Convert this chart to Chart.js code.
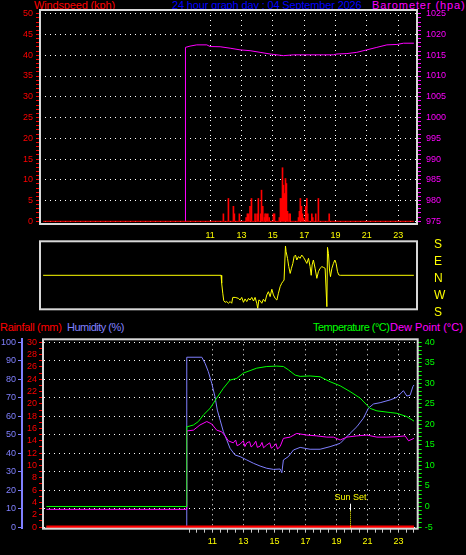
<!DOCTYPE html>
<html>
<head>
<meta charset="utf-8">
<script src="https://cdn.jsdelivr.net/npm/chart.js@4.4.1/dist/chart.umd.min.js"></script>
<style>
  html, body { margin: 0; padding: 0; background: #000; }
  body { width: 466px; height: 555px; position: relative; overflow: hidden;
         font-family: 'Liberation Sans', Arial, sans-serif; }
  .t { position: absolute; font-size: 11px; line-height: 12px; white-space: nowrap; }
  canvas { position: absolute; left: 0; }
</style>
</head>
<body>
<div class="t" style="left:34px;top:-1px;color:#f00;letter-spacing:-0.15px">Windspeed (kph)</div>
<div class="t" style="left:172px;top:-1px;color:#00f;letter-spacing:-0.15px">24 hour graph day : 04 September 2026</div>
<div class="t" style="left:372px;top:-1px;color:#f0f;letter-spacing:0.9px">Barometer (hpa)</div>
<div class="t" style="left:0;top:321px;color:#f00;letter-spacing:-0.3px">Rainfall (mm)</div>
<div class="t" style="left:67px;top:321px;color:#8080ff;letter-spacing:-0.5px">Humidity (%)</div>
<div class="t" style="left:313px;top:321px;color:#0f0;letter-spacing:-0.5px">Temperature (°C)</div>
<div class="t" style="left:390px;top:321px;color:#f0f">Dew Point (°C)</div>
<canvas id="top" width="466" height="242" style="top:0"></canvas>
<canvas id="mid" width="466" height="86" style="top:236px"></canvas>
<canvas id="bot" width="466" height="237" style="top:318px"></canvas>
<script>
// tick labels
const hourLabels = [11, 13, 15, 17, 19, 21, 23];
const windTicks = [0, 5, 10, 15, 20, 25, 30, 35, 40, 45, 50];
const baroTicks = [975, 980, 985, 990, 995, 1000, 1005, 1010, 1015, 1020, 1025];
const dirTicks = [180, 90, 0, -90, -180];
const dirLabels = ['S', 'E', 'N', 'W', 'S'];
const rainTicks = [0, 2, 4, 6, 8, 10, 12, 14, 16, 18, 20, 22, 24, 26, 28, 30];
const humTicks = [0, 10, 20, 30, 40, 50, 60, 70, 80, 90, 100];
const tempTicks = [-5, 0, 5, 10, 15, 20, 25, 30, 35, 40];

// wind speed (kph), hours of day
const windTimes = [11.85, 12.17, 12.49, 12.55, 12.87, 13.30, 13.38, 13.45, 13.55, 13.64, 13.87, 14.00,
  14.08, 14.23, 14.28, 14.36, 14.47, 14.51, 14.58, 14.68, 14.77, 15.04, 15.11, 15.42, 15.49, 15.55,
  15.62, 15.68, 15.74, 15.81, 15.87, 15.94, 16.04, 16.11, 16.64, 16.70, 16.76, 16.83, 16.89, 16.96,
  17.10, 17.17, 17.23, 17.49, 17.55, 17.74, 17.91, 18.60];
const windSpeed = [1.8, 5.5, 3.6, 1.8, 1.8, 0.9, 1.8, 1.8, 3.6, 5.5, 1.8, 1.8,
  5.5, 1.8, 7.5, 3.6, 0.9, 1.8, 1.8, 1.8, 0.9, 1.8, 1.8, 0.9, 5.5, 5.5,
  12.9, 8.7, 6.7, 10.3, 9.1, 2.4, 1.8, 1.8, 0.9, 2.4, 5.5, 3.6, 1.8, 0.7,
  3.6, 5.5, 1.8, 1.8, 0.9, 1.8, 5.5, 1.8];
const calmTimes = [0.35, 24.0];
const calmSpeed = [0, 0];

// barometer (hPa)
const baroTimes = [9.43, 9.43, 9.72, 10.15, 10.79, 11.0, 11.64, 12.28, 12.91, 13.55, 14.19, 14.83,
  15.68, 16.32, 17.38, 18.23, 18.87, 19.09, 19.73, 20.36, 21.0, 21.64, 22.28, 22.92, 23.34, 24.0];
const baroValues = [975, 1016.9, 1017.2, 1017.5, 1017.5, 1017.1, 1017.05, 1016.7, 1016.3, 1016.1, 1015.7, 1015.3,
  1014.9, 1015.1, 1015.1, 1015.1, 1015.1, 1015.3, 1015.4, 1015.7, 1016.3, 1016.9, 1017.5, 1017.6, 1017.9, 1017.9];

// wind direction (degrees, N = 0, E = 90, S = +/-180, W = -90)
const dirTimes = [0.35, 11.70, 11.74, 11.81, 11.87, 11.96, 12.06, 12.17, 12.28, 12.38, 12.45, 12.60,
  12.81, 12.91, 13.02, 13.13, 13.23, 13.34, 13.45, 13.55, 13.66, 13.77, 13.87, 13.98, 14.04, 14.11,
  14.19, 14.30, 14.40, 14.51, 14.62, 14.72, 14.83, 14.94, 15.04, 15.15, 15.26, 15.36, 15.47, 15.57,
  15.64, 15.72, 15.81, 15.85, 15.94, 16.02, 16.11, 16.19, 16.28, 16.36, 16.45, 16.53, 16.64, 16.74,
  16.85, 16.96, 17.06, 17.17, 17.28, 17.38, 17.45, 17.51, 17.59, 17.70, 17.81, 17.91, 18.02, 18.13,
  18.23, 18.34, 18.45, 18.49, 18.55, 18.62, 18.68, 18.77, 18.87, 18.96, 19.04, 19.13, 19.21, 19.30, 24.0];
const dirValues = [0, 0, -42, -95, -134, -143, -139, -148, -139, -148, -117, -117,
  -122, -131, -117, -143, -125, -139, -122, -131, -117, -136, -117, -148, -175, -131,
  -134, -148, -127, -139, -104, -87, -113, -74, -104, -122, -131, -95, -60, -42,
  -34, -25, 155, 125, 90, 46, 10, 37, 63, 99, 107, 81, 99, 90,
  107, 95, 81, 63, 90, 46, 0, 55, 81, 37, -16, 19, 37, 46,
  42, 37, -166, 148, 116, 28, -7, 37, 63, 81, 63, 19, 2, 0, 0];

// rainfall (mm)
const rainTimes = [0.3, 24.0];
const rainValues = [0, 0];

// temperature (°C)
const tempTimes = [0.3, 9.35, 9.35, 9.78, 10.1, 10.42, 10.85, 11.28, 11.71, 12.14, 12.57, 13.0, 13.43,
  13.86, 14.51, 15.15, 15.58, 15.9, 16.34, 16.66, 17.3, 17.95, 18.59, 19.24, 19.88, 20.53, 21.17,
  21.61, 22.46, 22.9, 23.54, 24.0];
const tempValues = [0, 0, 19.4, 19.85, 20.7, 22.3, 23.9, 26.4, 28.8, 30.8, 31.2, 32.5, 33.1,
  33.7, 34.1, 34.2, 34.1, 33.3, 32.0, 31.7, 31.8, 31.6, 30.4, 29.4, 28.0, 26.4, 23.9,
  23.3, 22.9, 22.7, 21.9, 20.8];

// humidity (%)
const humTimes = [0.3, 9.35, 9.35, 10.32, 10.53, 10.74, 10.96, 11.17, 11.32, 11.5, 11.71, 11.93, 12.14,
  12.46, 12.79, 13.22, 13.65, 14.08, 14.51, 14.94, 15.37, 15.48, 15.58, 15.9, 16.23, 16.66, 17.3,
  17.95, 18.59, 19.24, 19.56, 19.88, 20.32, 20.74, 21.06, 21.39, 21.82, 22.46, 22.9, 23.32, 23.54,
  23.75, 23.93, 24.0];
const humValues = [0, 0, 91.9, 91.9, 88.6, 84.1, 77.8, 70.5, 63.3, 57.9, 51.6, 47.1, 42.6,
  39.0, 38.1, 36.3, 34.5, 33.0, 31.8, 31.2, 31.4, 29.4, 36.3, 38.1, 41.7, 43.1, 42.1,
  42.1, 43.5, 45.3, 48.0, 50.7, 54.3, 58.9, 64.3, 66.6, 67.3, 68.8, 70.2, 73.8, 70.9,
  71.3, 76.0, 76.9];

// dew point (°C)
const dewTimes = [0.3, 9.35, 9.35, 9.78, 10.2, 10.64, 10.96, 11.28, 11.6, 11.82, 12.03, 12.35, 12.5,
  12.6, 12.79, 13.0, 13.1, 13.22, 13.4, 13.5, 13.65, 13.8, 13.9, 14.08, 14.2, 14.3, 14.51, 14.7,
  14.8, 14.94, 15.1, 15.2, 15.37, 15.58, 16.01, 16.44, 17.09, 17.73, 18.38, 18.81, 19.24, 19.67,
  20.32, 20.96, 21.61, 22.25, 22.9, 23.43, 23.65, 24.0];
const dewValues = [-0.7, -0.7, 18.4, 18.6, 19.85, 20.7, 20.1, 18.6, 18.2, 17.2, 16.0, 15.5, 16.2,
  14.8, 15.2, 16.0, 14.6, 15.5, 15.8, 14.5, 15.0, 15.9, 14.4, 14.7, 15.6, 14.3, 15.0, 15.5,
  14.2, 14.6, 15.3, 14.0, 14.6, 16.6, 16.9, 17.8, 17.4, 17.2, 16.9, 16.9, 16.2, 16.9,
  17.2, 17.4, 16.9, 16.9, 17.0, 17.2, 16.0, 16.6];

const sunsetHour = 19.87;

const FONT = "'Liberation Sans', Arial, sans-serif";
Chart.defaults.font.family = FONT;
Chart.defaults.font.size = 9;

function pts(xs, ys) {
  return xs.map(function (x, i) { return { x: x, y: ys[i] }; });
}
function steps(a, b, step) {
  const out = [];
  for (let v = a; v <= b + 1e-9; v += step) out.push(Math.round(v * 100) / 100);
  return out;
}
function setTicks(values) {
  return function (axis) { axis.ticks = values.map(function (v) { return { value: v }; }); };
}
function fixSize(size) {
  return function (axis) {
    if (axis.isHorizontal()) { axis.height = size; axis.paddingLeft = 0; axis.paddingRight = 0; }
    else { axis.width = size; axis.paddingTop = 0; axis.paddingBottom = 0; }
  };
}
function only(list) {
  return function (v) { return list.includes(v) ? String(v) : ''; };
}

const framePlugin = {
  id: 'frame',
  afterDatasetsDraw(chart) {
    const a = chart.chartArea, c = chart.ctx;
    c.save();
    c.strokeStyle = '#d8d8d8';
    c.lineWidth = 2;
    c.strokeRect(a.left, a.top, a.right - a.left, a.bottom - a.top);
    c.restore();
  }
};

const sunsetPlugin = {
  id: 'sunset',
  afterDatasetsDraw(chart) {
    const x = Math.round(chart.scales.x.getPixelForValue(sunsetHour)) + 0.5;
    const b = chart.chartArea.bottom;
    const c = chart.ctx;
    c.save();
    c.lineWidth = 1;
    c.strokeStyle = '#fff';
    c.beginPath(); c.moveTo(x, b - 25); c.lineTo(x, b - 18); c.stroke();
    c.strokeStyle = '#ff0';
    c.setLineDash([1, 1]);
    c.beginPath(); c.moveTo(x, b - 18); c.lineTo(x, b); c.stroke();
    c.setLineDash([]);
    c.fillStyle = '#ff0';
    c.font = '9px ' + FONT;
    c.textAlign = 'center';
    c.textBaseline = 'middle';
    c.fillText('Sun Set', x, b - 31);
    c.restore();
  }
};

const common = {
  responsive: false,
  animation: false,
  devicePixelRatio: 1,
  plugins: { legend: { display: false }, tooltip: { enabled: false } }
};

const dotted = { display: false, dash: [1, 4] };

// windspeed + barometer
new Chart(document.getElementById('top'), {
  type: 'bar',
  data: {
    datasets: [
      { type: 'line', data: pts(calmTimes, calmSpeed), yAxisID: 'wind', borderColor: '#f00', borderWidth: 1, pointRadius: 0 },
      { type: 'bar', data: pts(windTimes, windSpeed), yAxisID: 'wind', backgroundColor: '#f00', barThickness: 1 },
      { type: 'line', data: pts(baroTimes, baroValues), yAxisID: 'baro', borderColor: '#f0f', borderWidth: 1, pointRadius: 0 }
    ]
  },
  options: Object.assign({}, common, {
    layout: { padding: { top: 10, left: 0, right: 0, bottom: 0 } },
    scales: {
      x: {
        type: 'linear', min: 0.15, max: 24.2, offset: false,
        afterBuildTicks: setTicks(hourLabels), afterFit: fixSize(18),
        grid: { color: '#fff', drawTicks: false, offset: false }, border: dotted,
        ticks: { color: '#ff0', padding: 6, autoSkip: false, maxRotation: 0 }
      },
      wind: {
        position: 'left', min: -0.65, max: 50.9,
        afterBuildTicks: setTicks(steps(0, 50, 1)), afterFit: fixSize(40),
        grid: { color: (c) => windTicks.includes(c.tick.value) ? '#fff' : 'transparent', tickColor: '#f00', tickLength: 4 },
        border: dotted,
        ticks: { color: '#f00', padding: 3, autoSkip: false, callback: only(windTicks) }
      },
      baro: {
        position: 'right', min: 974.35, max: 1025.9,
        afterBuildTicks: setTicks(steps(975, 1025, 1)), afterFit: fixSize(49),
        grid: { drawOnChartArea: false, tickColor: '#f0f', tickLength: 4 },
        border: { display: false },
        ticks: { color: '#f0f', padding: 5, autoSkip: false, callback: only(baroTicks) }
      }
    }
  }),
  plugins: [framePlugin]
});

// wind direction
new Chart(document.getElementById('mid'), {
  type: 'line',
  data: {
    datasets: [
      { data: pts(dirTimes, dirValues), yAxisID: 'dir', borderColor: '#ff0', borderWidth: 1, pointRadius: 0 }
    ]
  },
  options: Object.assign({}, common, {
    layout: { padding: { top: 5.3, left: 40, right: 0, bottom: 12.7 } },
    scales: {
      x: { type: 'linear', min: 0.15, max: 24.2, display: false },
      dir: {
        position: 'right', min: -180, max: 180,
        afterBuildTicks: setTicks(dirTicks), afterFit: fixSize(49),
        grid: { display: false, drawTicks: false }, border: { display: false },
        ticks: { color: '#ff0', padding: 17, labelOffset: 3, autoSkip: false, font: { size: 12 },
                 callback: (v, i) => dirLabels[i] }
      }
    }
  }),
  plugins: [framePlugin]
});

// rainfall, humidity, temperature, dew point
new Chart(document.getElementById('bot'), {
  type: 'line',
  data: {
    datasets: [
      { data: pts(rainTimes, rainValues), yAxisID: 'rain', borderColor: '#f00', borderWidth: 3, pointRadius: 0 },
      { data: pts(tempTimes, tempValues), yAxisID: 'temp', borderColor: '#0f0', borderWidth: 1, pointRadius: 0 },
      { data: pts(dewTimes, dewValues), yAxisID: 'temp', borderColor: '#f0f', borderWidth: 1, pointRadius: 0 },
      { data: pts(humTimes, humValues), yAxisID: 'hum', borderColor: '#7f7fff', borderWidth: 1, pointRadius: 0 }
    ]
  },
  options: Object.assign({}, common, {
    layout: { padding: { top: 21.3, left: 0, right: 0, bottom: 0 } },
    scales: {
      x: {
        type: 'linear', min: 0.08, max: 24.24,
        afterBuildTicks: setTicks(steps(9.5, 24, 0.5)), afterFit: fixSize(26.3),
        grid: { color: (c) => hourLabels.includes(c.tick.value) ? '#fff' : 'transparent', tickColor: '#c8c8c8', tickLength: 4 },
        border: dotted,
        ticks: { color: '#ff0', padding: 3, autoSkip: false, maxRotation: 0, callback: only(hourLabels) }
      },
      hum: {
        position: 'left', weight: 1, min: -0.9, max: 101.6,
        afterBuildTicks: setTicks(humTicks), afterFit: fixSize(22),
        grid: { color: '#fff', tickColor: '#8080ff', tickLength: 4 },
        border: { display: true, color: '#8080ff', width: 2, dash: [1, 4] },
        ticks: { color: '#8080ff', padding: 2, autoSkip: false }
      },
      rain: {
        position: 'left', weight: 0, min: -0.27, max: 30.48,
        afterBuildTicks: setTicks(steps(0, 30, 1)), afterFit: fixSize(21),
        grid: { drawOnChartArea: false, tickColor: '#f00', tickLength: 4 },
        border: { display: false },
        ticks: { color: '#f00', padding: 2, autoSkip: false, callback: only(rainTicks) }
      },
      temp: {
        position: 'right', min: -5.41, max: 40.73,
        afterBuildTicks: setTicks(steps(-5, 40, 1)), afterFit: fixSize(48.3),
        grid: { drawOnChartArea: false, tickColor: '#0f0', tickLength: 4 },
        border: { display: false },
        ticks: { color: '#0f0', padding: 3, autoSkip: false, callback: only(tempTicks) }
      }
    }
  }),
  plugins: [framePlugin, sunsetPlugin]
});
</script>
</body>
</html>
